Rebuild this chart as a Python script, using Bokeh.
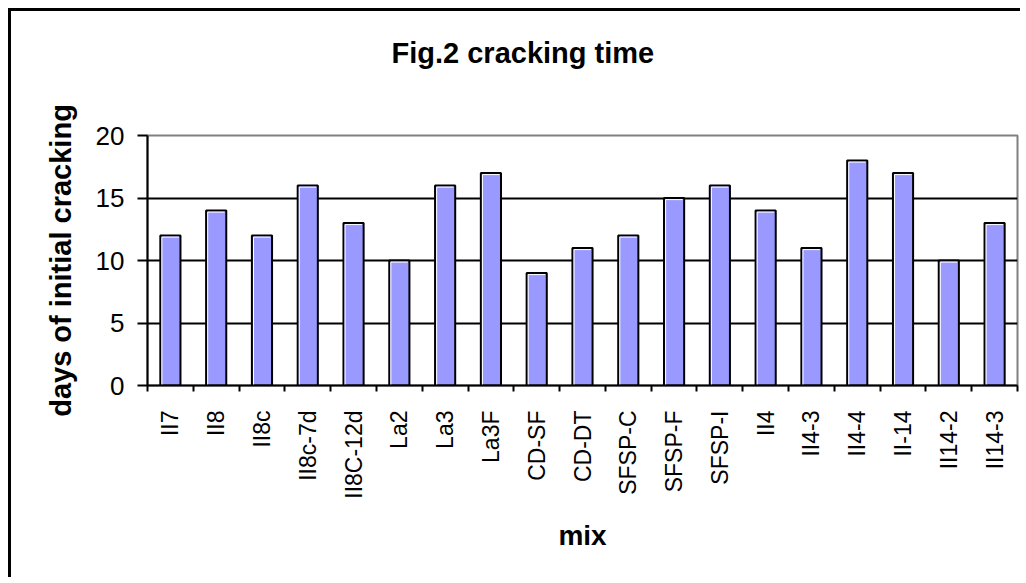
import math
import numpy as np
from bokeh.plotting import figure
from bokeh.models import FixedTicker, Title, Range1d
from bokeh.embed import file_html
from bokeh.resources import INLINE

# ---- data ----
mixes = ["II7", "II8", "II8c", "II8c-7d", "II8C-12d", "La2", "La3", "La3F", "CD-SF",
         "CD-DT", "SFSP-C", "SFSP-F", "SFSP-I", "II4", "II4-3", "II4-4", "II-14",
         "II14-2", "II14-3"]
days = [12, 14, 12, 16, 13, 10, 16, 17, 9, 11, 12, 15, 16, 14, 11, 18, 17, 10, 13]
y_ticks = [0, 5, 10, 15, 20]
title_text = "Fig.2 cracking time"
x_title = "mix"
y_title = "days of initial cracking"

FONT = "Liberation Sans"
W, H = 1015, 572
MB_L, MB_R, MB_T, MB_B = 136, 9, 124, 198
BAR_W = 0.44

n = len(mixes)
xc = (np.arange(n) + 0.5).tolist()

p = figure(width=W, height=H, output_backend="svg", toolbar_location=None,
           x_range=Range1d(0, n), y_range=Range1d(0, 20),
           min_border_left=MB_L, min_border_right=MB_R, min_border_top=MB_T,
           min_border_bottom=MB_B)
p.styles = {"border-left": "3px solid black", "border-top": "3px solid black",
            "position": "relative", "left": "8px", "top": "8px",
            "clip-path": "inset(0px 3px 3px 0px)"}

p.background_fill_color = "white"
p.border_fill_color = "white"
p.outline_line_color = "#808080"
p.outline_line_width = 2

p.vbar(x=xc, top=days, width=BAR_W, bottom=0,
       fill_color="#9999FF", line_color="black", line_width=2)

# white inner highlight (top and left edges), like the original's bar style
frame_w = W - MB_L - MB_R
frame_h = H - MB_T - MB_B
dx = 1.6 * n / frame_w
dy = 1.6 * 20 / frame_h
hx, hy = [], []
for x, d in zip(xc, days):
    l = x - BAR_W / 2 + dx
    r = x + BAR_W / 2 - dx
    t = d - dy
    hx.append([l, l, r])
    hy.append([0.05, t, t])
p.multi_line(xs=hx, ys=hy, line_color="white", line_width=1)

# x axis
xa = p.xaxis[0]
xa.ticker = FixedTicker(ticks=xc, minor_ticks=list(range(n + 1)))
xa.major_label_overrides = {x: m for x, m in zip(xc, mixes)}
xa.major_label_orientation = math.pi / 2
xa.major_tick_out = 0
xa.major_tick_in = 0
xa.minor_tick_out = 6
xa.minor_tick_in = 0
xa.minor_tick_line_color = "black"
xa.minor_tick_line_width = 2
xa.axis_line_color = "black"
xa.axis_line_width = 2
xa.major_label_text_font = FONT
xa.major_label_text_font_size = "23px"
xa.major_label_text_color = "black"
xa.major_label_standoff = 19
xa.axis_label = x_title
xa.axis_label_text_font = FONT
xa.axis_label_text_font_size = "28px"
xa.axis_label_text_font_style = "bold"
xa.axis_label_text_color = "black"
xa.axis_label_standoff = 18

# y axis
ya = p.yaxis[0]
ya.ticker = FixedTicker(ticks=y_ticks)
ya.major_tick_out = 10
ya.major_tick_in = 0
ya.major_tick_line_width = 2
ya.major_tick_line_color = "black"
ya.minor_tick_line_color = None
ya.axis_line_color = "black"
ya.axis_line_width = 2
ya.major_label_text_font = FONT
ya.major_label_text_font_size = "26px"
ya.major_label_text_color = "black"
ya.major_label_standoff = 13
ya.axis_label = y_title
ya.axis_label_text_font = FONT
ya.axis_label_text_font_size = "29px"
ya.axis_label_text_font_style = "bold"
ya.axis_label_text_color = "black"
ya.axis_label_standoff = 16

p.xgrid.grid_line_color = None
p.ygrid.ticker = FixedTicker(ticks=y_ticks[1:-1])
p.ygrid.grid_line_color = "black"
p.ygrid.grid_line_width = 2

# blank spacer between frame and title, then the title itself (outermost)
spacer = Title(text=" ", text_font_size="1px")
try:
    spacer.standoff = 37
except Exception:
    pass
p.add_layout(spacer, "above")

title = Title(text=title_text, align="left", offset=244, vertical_align="top",
              text_font=FONT, text_font_size="29px", text_font_style="bold",
              text_color="black")
try:
    title.standoff = 50
except Exception:
    pass
p.add_layout(title, "above")

open("out.html", "w").write(file_html(p, INLINE))
